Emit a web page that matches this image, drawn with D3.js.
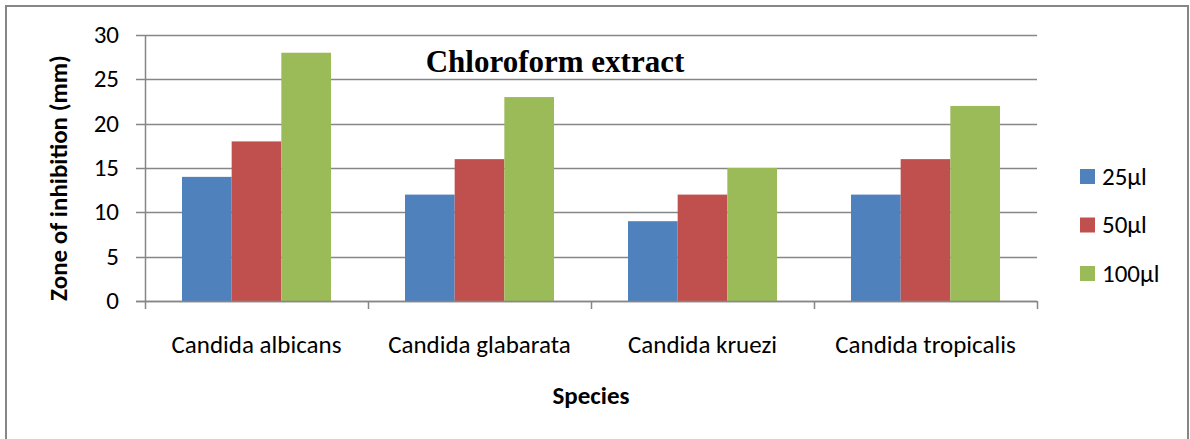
<!DOCTYPE html>
<html><head><meta charset="utf-8">
<script src="https://cdn.jsdelivr.net/npm/d3@7"></script>
<style>body{margin:0;background:#fff;}svg{display:block;}</style>
</head><body>
<svg id="c" width="1190" height="439"></svg>
<script>
const categories = ["Candida albicans", "Candida glabarata", "Candida kruezi", "Candida tropicalis"];
const seriesNames = ["25µl", "50µl", "100µl"];
const v25 = [14, 12, 9, 12];
const v50 = [18, 16, 12, 16];
const v100 = [28, 23, 15, 22];
const yTicks = [0, 5, 10, 15, 20, 25, 30];
const colors = ["#4F81BD", "#C0504D", "#9BBB59"];
const title = "Chloroform extract";
const yTitle = "Zone of inhibition (mm)";
const xTitle = "Species";

const seriesVals = [v25, v50, v100];
const svg = d3.select("#c");
const font = "Carlito, 'Noto Sans', 'Open Sans', sans-serif";
const fs = 25;
const grid = "#868686";

// outer frame
svg.append("rect").attr("x", 6).attr("y", 6).attr("width", 1182).attr("height", 460)
  .attr("fill", "#fff").attr("stroke", grid).attr("stroke-width", 2);

const L = 145, R = 1037, T = 35, B = 301;
const x = d3.scaleBand().domain(categories).range([L, R]).paddingInner(0).paddingOuter(0);
const xs = d3.scaleBand().domain(seriesNames).range([0, x.bandwidth()]).paddingInner(0).paddingOuter(0.745);
const y = d3.scaleLinear().domain([0, 30]).range([B, T]);

// gridlines
svg.append("g").selectAll("line").data(yTicks).join("line")
  .attr("x1", L - 9).attr("x2", R).attr("y1", d => Math.round(y(d)) + 0.5).attr("y2", d => Math.round(y(d)) + 0.5)
  .attr("stroke", grid).attr("stroke-width", 1.5);

// y axis
svg.append("line").attr("x1", L + 0.5).attr("x2", L + 0.5).attr("y1", T).attr("y2", B)
  .attr("stroke", grid).attr("stroke-width", 1.5);
svg.append("g").selectAll("text").data(yTicks).join("text")
  .attr("x", 119).attr("y", d => y(d)).attr("dy", "0.32em").attr("text-anchor", "end")
  .attr("font-family", font).attr("font-size", fs).attr("fill", "#000").text(d => d);

// bars
const g = svg.append("g");
categories.forEach((c, i) => {
  seriesNames.forEach((s, j) => {
    const v = seriesVals[j][i];
    g.append("rect").attr("x", x(c) + xs(s)).attr("width", xs.bandwidth())
      .attr("y", y(v)).attr("height", y(0) - y(v)).attr("fill", colors[j]);
  });
});

// x axis line and ticks
svg.append("line").attr("x1", L - 9).attr("x2", R).attr("y1", B + 0.5).attr("y2", B + 0.5)
  .attr("stroke", grid).attr("stroke-width", 1.5);
const bounds = categories.map(c => x(c)).concat([R]);
svg.append("g").selectAll("line").data(bounds).join("line")
  .attr("x1", d => d + 0.5).attr("x2", d => d + 0.5).attr("y1", B).attr("y2", B + 8)
  .attr("stroke", grid).attr("stroke-width", 1.5);
svg.append("g").selectAll("text").data(categories).join("text")
  .attr("x", d => x(d) + x.bandwidth() / 2).attr("y", 353).attr("text-anchor", "middle")
  .attr("font-family", font).attr("font-size", fs).attr("fill", "#000").text(d => d);

// titles
svg.append("text").attr("x", 555).attr("y", 72).attr("text-anchor", "middle")
  .attr("font-family", "'Liberation Serif', 'Times New Roman', serif").attr("font-weight", "bold")
  .attr("font-size", 31).text(title);
svg.append("text").attr("transform", "translate(67,178) rotate(-90)").attr("text-anchor", "middle")
  .attr("font-family", font).attr("font-weight", "bold").attr("font-size", fs).text(yTitle);
svg.append("text").attr("x", 591).attr("y", 404).attr("text-anchor", "middle")
  .attr("font-family", font).attr("font-weight", "bold").attr("font-size", fs).text(xTitle);

// legend
const lg = svg.append("g").selectAll("g").data(seriesNames).join("g")
  .attr("transform", (d, i) => `translate(1080,${169 + i * 48.5})`);
lg.append("rect").attr("width", 15).attr("height", 15).attr("fill", (d, i) => colors[i]);
lg.append("text").attr("x", 22).attr("y", 7.5).attr("dy", "0.32em")
  .attr("font-family", font).attr("font-size", fs).text(d => d);
</script>
</body></html>
